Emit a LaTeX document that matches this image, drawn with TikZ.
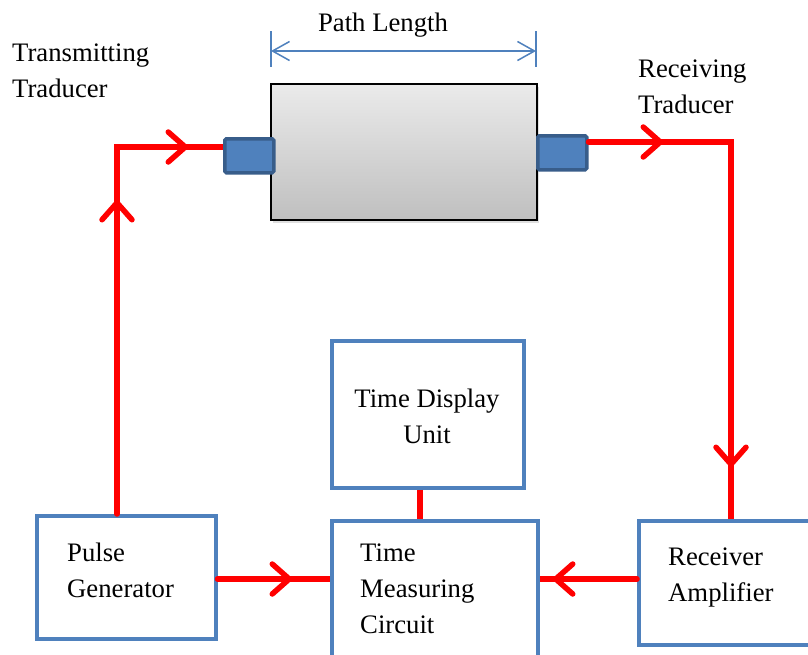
\documentclass[tikz,border=0pt]{standalone}
\usepackage{fontspec}
\setmainfont{Liberation Serif}
\usetikzlibrary{arrows.meta,shadows}
\definecolor{boxblue}{HTML}{4F81BD}
\definecolor{tdfill}{HTML}{4F81BD}
\definecolor{tdline}{HTML}{385D8A}
\begin{document}
\begin{tikzpicture}[x=1pt,y=-1pt,
  lbl/.style={font=\fontsize{26.7}{35.7}\selectfont,inner sep=0pt,anchor=base west,align=left},
  blk/.style={draw=boxblue,line width=3.5pt,fill=white,anchor=north west,inner sep=0pt},
  tdc/.style={draw=tdline,fill=tdfill,line width=3.5pt,rounded corners=1.5pt,anchor=north west,inner sep=0pt},
  redline/.style={draw=red,line width=5.5pt},
  tip/.style={redline,line cap=round,-{Straight Barb[length=17pt,width=30pt,round]}},
  dimline/.style={draw=boxblue,line width=1.5pt},
  dimtip/.tip={Straight Barb[length=17pt,width=19pt]}
]
\clip (0,0) rectangle (808,654);
\fill[white] (0,0) rectangle (808,654);

% sample body
\node[anchor=north west,draw=black,line width=1.5pt,top color=black!8,bottom color=black!25,
  minimum width=266pt,minimum height=136pt,inner sep=0pt,
  drop shadow={opacity=0.25,shadow xshift=2pt,shadow yshift=-3pt}] (body) at (270,83) {};
% transducers
\node[tdc,minimum width=49pt,minimum height=34pt] (tt) at (223,137) {};
\node[tdc,minimum width=49pt,minimum height=34pt] (rt) at (536,134) {};

% path length dimension
\coordinate (d1) at (271,51);
\coordinate (d2) at (536,51);
\draw[dimline] (271,31) -- (271,67);
\draw[dimline] (536,31) -- (536,67);
\draw[dimline,{dimtip}-{dimtip}] (d1) -- (d2);
\node[font=\fontsize{26.7}{35.7}\selectfont,inner sep=0pt,anchor=base] (pl) at (383,31) {Path Length};

% blocks
\node[blk,minimum width=179pt,minimum height=123pt] (pg) at (35,514) {};
\node[blk,minimum width=206pt,minimum height=140pt] (tmc) at (330,519) {};
\node[blk,minimum width=192pt,minimum height=147pt] (tdu) at (330,339) {};
\node[blk,minimum width=180pt,minimum height=124pt] (ra) at (637,519) {};

% labels (anchor = baseline of last line)
\node[lbl] (ltt) at (12,97) {Transmitting\\Traducer};
\node[lbl] (lrt) at (638,113) {Receiving\\Traducer};
\node[lbl,anchor=base,align=center] (ltdu) at (427,443) {Time Display\\Unit};
\node[lbl] (lpg) at (67,597) {Pulse\\Generator};
\node[lbl] (ltmc) at (360,633) {Time\\Measuring\\Circuit};
\node[lbl] (lra) at (668,601) {Receiver\\Amplifier};

% red connectors
\coordinate (c1) at (117,147);
\coordinate (c2) at (731,142);
\coordinate (a1) at (117,200);
\coordinate (a2) at (188,147);
\coordinate (a3) at (663,142);
\coordinate (a4) at (731,467);
\coordinate (a5) at (292,579);
\coordinate (a6) at (553,579);

\draw[redline] (pg.north -| c1) -- (c1) -- (tt.west |- c1);
\draw[tip] (pg.north -| c1) -- (a1);
\draw[tip] (c1) -- (a2);

\draw[redline] (rt.east |- c2) -- (c2) -- (ra.north -| c2);
\draw[tip] (rt.east |- c2) -- (a3);
\draw[tip] (c2) -- (a4);

\draw[redline] (pg.east |- a5) -- (tmc.west |- a5);
\draw[tip] (pg.east |- a5) -- (a5);
\draw[redline] (ra.west |- a6) -- (tmc.east |- a6);
\draw[tip] (ra.west |- a6) -- (a6);

\draw[redline] (tdu.south -| 420,0) -- (tmc.north -| 420,0);
\end{tikzpicture}
\end{document}
